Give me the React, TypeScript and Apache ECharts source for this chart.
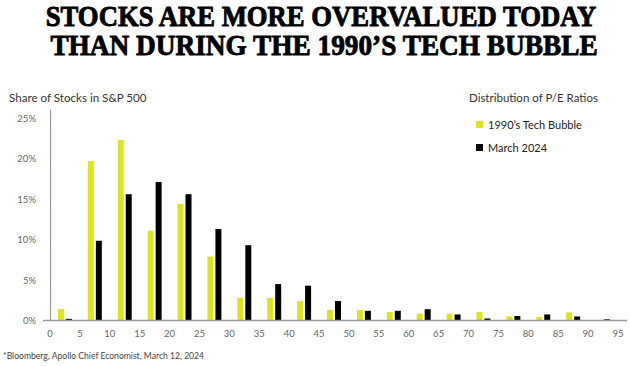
import React, { useEffect, useRef } from "react";
import * as echarts from "echarts";

const bins = ["0-5", "5-10", "10-15", "15-20", "20-25", "25-30", "30-35", "35-40", "40-45", "45-50", "50-55", "55-60", "60-65", "65-70", "70-75", "75-80", "80-85", "85-90", "90-95"];
const techBubble = [1.4, 19.7, 22.3, 11.1, 14.4, 7.9, 2.8, 2.8, 2.4, 1.3, 1.3, 1.05, 0.85, 0.85, 1.05, 0.5, 0.45, 1.0, 0];
const march2024 = [0.2, 9.85, 15.6, 17.1, 15.6, 11.3, 9.3, 4.5, 4.3, 2.4, 1.2, 1.2, 1.4, 0.75, 0.25, 0.55, 0.75, 0.5, 0.15];
const seriesNames = ["1990\u2019s Tech Bubble", "March 2024"];
const titleLines = ["STOCKS ARE MORE OVERVALUED TODAY", "THAN DURING THE 1990\u2019S TECH BUBBLE"];

const SANS = "Lato, 'Noto Sans', sans-serif";
const SERIF = "'Liberation Serif', 'DejaVu Serif', serif";

export default function App() {
  const ref = useRef<HTMLDivElement>(null);
  useEffect(() => {
    document.body.style.margin = "0";
    const chart = echarts.init(ref.current!, null, { renderer: "svg" });
    chart.setOption({
      animation: false,
      backgroundColor: "#ffffff",
      color: ["#dfe21f", "#000000"],
      grid: { left: 50, right: 12, top: 110, bottom: 45.5 },
      legend: {
        data: seriesNames,
        orient: "vertical",
        left: 471,
        top: 113,
        itemWidth: 7,
        itemHeight: 7,
        itemGap: 10,
        icon: "rect",
        textStyle: { fontFamily: SANS, fontSize: 11, color: "#222", lineHeight: 13 },
      },
      xAxis: [
        {
          type: "category",
          data: bins,
          boundaryGap: true,
          show: false,
        },
        {
          type: "value",
          min: 0,
          max: 95,
          interval: 5,
          position: "bottom",
          axisLine: { show: false },
          axisTick: { show: false },
          splitLine: { show: false },
          axisLabel: { fontFamily: SANS, fontSize: 9.5, color: "#666", margin: 8 },
        },
      ],
      yAxis: {
        type: "value",
        min: 0,
        max: 26,
        interval: 5,
        axisLine: { show: true, lineStyle: { color: "#999", width: 1.2 } },
        axisTick: { show: false },
        splitLine: { show: false },
        axisLabel: {
          formatter: "{value}%",
          showMaxLabel: false,
          fontFamily: SANS,
          fontSize: 9.5,
          color: "#666",
          margin: 14,
        },
      },
      series: [
        {
          name: seriesNames[0],
          type: "bar",
          xAxisIndex: 0,
          data: techBubble,
          barWidth: 6,
          barGap: "33%",
        },
        {
          name: seriesNames[1],
          type: "bar",
          xAxisIndex: 0,
          data: march2024,
          barWidth: 6,
          barGap: "33%",
        },
      ],
      graphic: [
        {
          type: "line",
          shape: { x1: 43, y1: 320.5, x2: 627, y2: 320.5 },
          style: { stroke: "#999", lineWidth: 1.5 },
          z: 10,
        },
        {
          type: "text",
          x: 321,
          y: 16,
          scaleX: 0.89,
          style: {
            text: titleLines[0],
            fontFamily: SERIF,
            fontWeight: "bold",
            fontSize: 30,
            fill: "#000",
            stroke: "#000",
            lineWidth: 0.9,
            textAlign: "center",
            textVerticalAlign: "middle",
          },
        },
        {
          type: "text",
          x: 324,
          y: 45,
          scaleX: 0.91,
          style: {
            text: titleLines[1],
            fontFamily: SERIF,
            fontWeight: "bold",
            fontSize: 30,
            fill: "#000",
            stroke: "#000",
            lineWidth: 0.9,
            textAlign: "center",
            textVerticalAlign: "middle",
          },
        },
        {
          type: "text",
          x: 9,
          y: 97,
          style: {
            text: "Share of Stocks in S&P 500",
            fontFamily: SANS,
            fontSize: 11.6,
            fill: "#333",
            textVerticalAlign: "middle",
          },
        },
        {
          type: "text",
          x: 469,
          y: 97,
          style: {
            text: "Distribution of P/E Ratios",
            fontFamily: SANS,
            fontSize: 11.5,
            fill: "#333",
            textVerticalAlign: "middle",
          },
        },
        {
          type: "text",
          x: 3,
          y: 356,
          style: {
            text: "*Bloomberg, Apollo Chief Economist, March 12, 2024",
            fontFamily: SANS,
            fontSize: 8.6,
            fill: "#444",
            textVerticalAlign: "middle",
          },
        },
      ],
    });
    return () => chart.dispose();
  }, []);
  return <div ref={ref} style={{ position: "fixed", left: 0, top: 0, width: 630, height: 366 }} />;
}
